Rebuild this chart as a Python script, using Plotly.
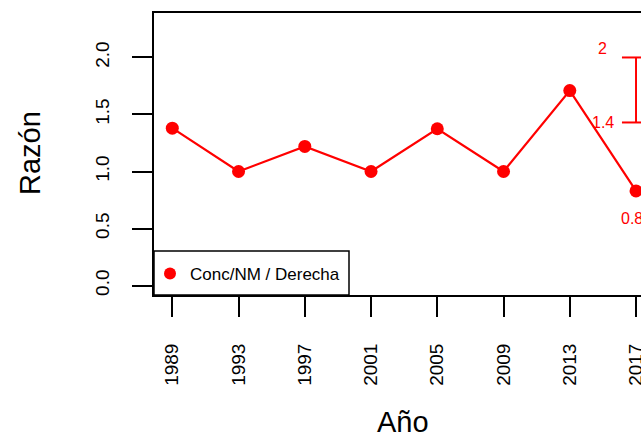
import plotly.graph_objects as go

# ---- data ----
years = [1989, 1993, 1997, 2001, 2005, 2009, 2013, 2017]
ratio = [1.38, 1.0, 1.22, 1.0, 1.375, 1.0, 1.71, 0.83]
series_name = "Conc/NM / Derecha"
x_ticks = years
y_ticks = [0.0, 0.5, 1.0, 1.5, 2.0]
y_tick_labels = ["0.0", "0.5", "1.0", "1.5", "2.0"]
bracket_year = 2017
bracket_lo = 1.43
bracket_hi = 2.0
bracket_lo_label = "1.4"
bracket_hi_label = "2"
last_label = "0.83"
x_title = "Año"
y_title = "Razón"

RED = "#ff0000"
FONT = "Liberation Sans, Arial, sans-serif"

W, H = 641, 437
ML, MT = 154, 13
MB = H - 295
plot_w = W - ML
plot_h = H - MT - MB

x_range = [1987.895, 2017.30]
y_range = [-0.083, 2.39]

def px_x(p):  # page pixel -> paper
    return (p - ML) / plot_w

def px_y(p):
    return (H - MB - p) / plot_h

fig = go.Figure()

fig.add_trace(go.Scatter(
    x=years, y=ratio, mode="lines",
    line=dict(color=RED, width=2.2),
    showlegend=False, cliponaxis=False, hoverinfo="skip"))
fig.add_trace(go.Scatter(
    x=years, y=ratio, mode="markers", name=series_name,
    marker=dict(color=RED, size=13),
    showlegend=True, cliponaxis=False))

# bracket
cap = 0.85
shapes = [
    dict(type="line", xref="x", yref="y", x0=bracket_year, x1=bracket_year,
         y0=bracket_lo, y1=bracket_hi, line=dict(color=RED, width=2)),
    dict(type="line", xref="x", yref="y", x0=bracket_year - cap, x1=bracket_year + cap,
         y0=bracket_lo, y1=bracket_lo, line=dict(color=RED, width=2)),
    dict(type="line", xref="x", yref="y", x0=bracket_year - cap, x1=bracket_year + cap,
         y0=bracket_hi, y1=bracket_hi, line=dict(color=RED, width=2)),
    # legend box
    dict(type="rect", xref="paper", yref="paper", x0=0, x1=px_x(349),
         y0=0, y1=px_y(251), line=dict(color="black", width=1.5),
         fillcolor="white", layer="below"),
]

annotations = [
    dict(x=bracket_year - 2.05, y=bracket_hi + 0.08, xref="x", yref="y",
         text=bracket_hi_label, showarrow=False, xanchor="center", yanchor="middle",
         font=dict(family=FONT, size=16, color=RED)),
    dict(x=bracket_year - 2.0, y=bracket_lo, xref="x", yref="y",
         text=bracket_lo_label, showarrow=False, xanchor="center", yanchor="middle",
         font=dict(family=FONT, size=16, color=RED)),
    dict(x=bracket_year, y=ratio[-1] - 0.245, xref="x", yref="y",
         text=last_label, showarrow=False, xanchor="center", yanchor="middle",
         font=dict(family=FONT, size=16, color=RED)),
    dict(x=px_x(403), y=px_y(422), xref="paper", yref="paper", text=x_title,
         showarrow=False, xanchor="center", yanchor="middle",
         font=dict(family=FONT, size=29, color="black")),
    dict(x=px_x(30), y=px_y(153), xref="paper", yref="paper", text=y_title,
         showarrow=False, xanchor="center", yanchor="middle", textangle=-90,
         font=dict(family=FONT, size=29, color="black")),
]

fig.update_layout(
    width=W, height=H,
    margin=dict(l=ML, r=0, t=MT, b=MB, pad=0, autoexpand=False),
    paper_bgcolor="white", plot_bgcolor="white",
    font=dict(family=FONT, color="black"),
    shapes=shapes, annotations=annotations,
    showlegend=True,
    legend=dict(x=px_x(150), y=px_y(274), xanchor="left", yanchor="middle",
                bgcolor="rgba(0,0,0,0)", borderwidth=0,
                font=dict(family=FONT, size=17, color="black"),
                itemsizing="constant"),
    xaxis=dict(range=x_range, tickmode="array", tickvals=x_ticks,
               ticktext=[str(v) for v in x_ticks], tickangle=-90,
               ticks="outside", ticklen=20, tickwidth=2, tickcolor="black",
               showline=True, linecolor="black", linewidth=2, mirror=True,
               showgrid=False, zeroline=False, ticklabelstandoff=19,
               ticklabeloverflow="allow", automargin=False,
               tickfont=dict(family=FONT, size=19, color="black")),
    yaxis=dict(range=y_range, tickmode="array", tickvals=y_ticks,
               ticktext=y_tick_labels, tickangle=-90, automargin=False,
               ticks="outside", ticklen=20, tickwidth=2, tickcolor="black",
               showline=True, linecolor="black", linewidth=2, mirror=False,
               showgrid=False, zeroline=False, ticklabelstandoff=15,
               tickfont=dict(family=FONT, size=19, color="black")),
)

fig.write_html(
    "out.html",
    config={"displayModeBar": False},
    post_script="document.documentElement.style.margin='0';"
                "document.body.style.margin='0';"
                "document.body.style.overflow='hidden';"
                "document.documentElement.style.overflow='hidden';",
)
